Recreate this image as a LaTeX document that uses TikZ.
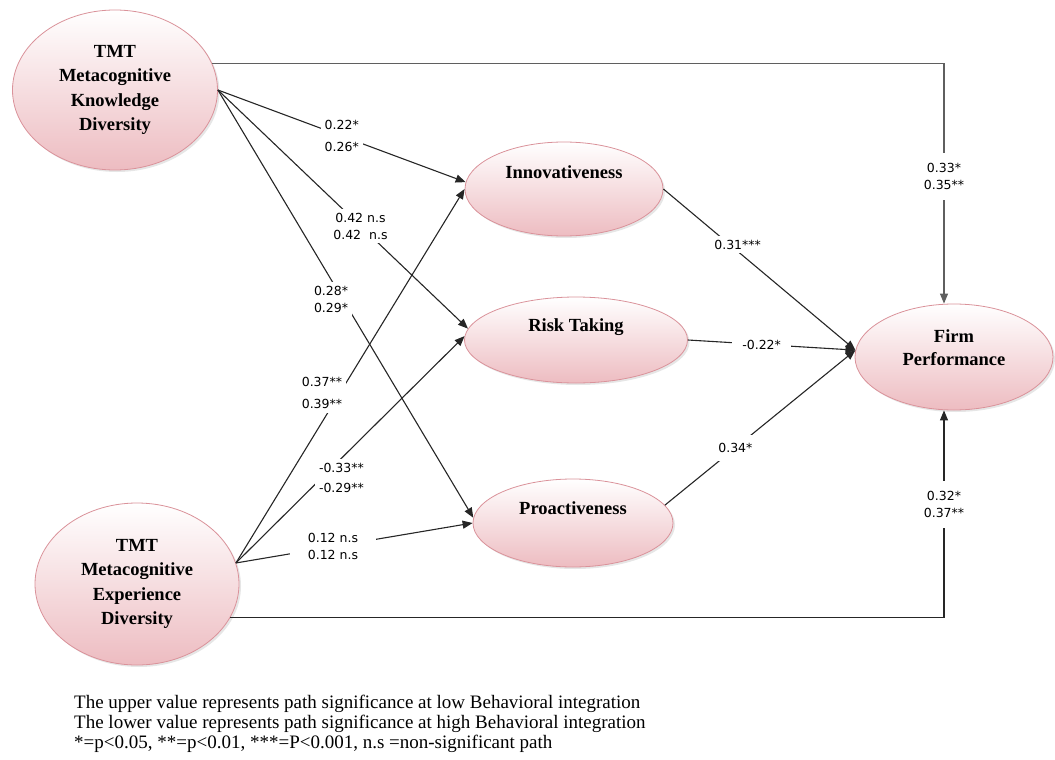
\documentclass[tikz,border=0pt]{standalone}
\usepackage{fontspec}
\setmainfont{Liberation Serif}
\newfontfamily\valfont{DejaVu Sans}
\usepackage{tikz}
\usetikzlibrary{arrows.meta,shapes.geometric,shadows,positioning}
\definecolor{ellpink}{RGB}{237,188,193}
\definecolor{ellline}{RGB}{218,146,154}
\definecolor{pathgray}{RGB}{95,95,95}

\begin{document}
\begin{tikzpicture}[x=1pt,y=-1pt,>={Triangle[length=10pt,width=8pt]},
    construct/.style={ellipse,draw=ellline,line width=0.8pt,top color=white,bottom color=ellpink,
        drop shadow={shadow xshift=2pt,shadow yshift=-2pt,opacity=0.2},inner sep=0pt,
        align=center,font=\fontsize{18.5}{24.5}\selectfont\bfseries},
    word/.style={inner sep=0pt,font=\fontsize{18.5}{23}\selectfont\bfseries},
    conn/.style={->,line width=1.1pt,black!85},
    coef/.style={fill=white,text=black,inner sep=4pt,align=center,font=\valfont\fontsize{12.5}{17}\selectfont},
    coefwide/.style={coef,font=\valfont\fontsize{12.5}{22}\selectfont}]

    \useasboundingbox (0,0) rectangle (1055,760);

    % constructs
    \node[construct,minimum width=205pt,minimum height=160pt] (know) at (115,90)
        {TMT\\Metacognitive\\Knowledge\\Diversity};
    \node[construct,minimum width=204pt,minimum height=162pt] (expd) at (137,584)
        {TMT\\Metacognitive\\Experience\\Diversity};
    \node[construct,minimum width=198pt,minimum height=94pt,
        label={[word,yshift=17pt]center:Innovativeness}] (innov) at (564,189) {};
    \node[construct,minimum width=223pt,minimum height=86pt,
        label={[word,yshift=13pt]center:Risk Taking}] (risk) at (576,340) {};
    \node[construct,minimum width=200pt,minimum height=88pt,
        label={[word,yshift=15pt]center:Proactiveness}] (proact) at (573,523) {};
    \node[construct,minimum width=198pt,minimum height=106pt,
        label={[word,align=center,yshift=9pt]center:Firm\\Performance}] (firm) at (954,357) {};

    % direct paths
    \draw[conn,pathgray] (know.15) -| node[coef,pos=0.735,inner ysep=10pt]{0.33*\\0.35**}
        ([xshift=-10pt]firm.north);
    \draw[conn] (expd.-20) -| node[coef,pos=0.773,inner ysep=10pt]{0.32*\\0.37**}
        ([xshift=-10pt]firm.south);

    % knowledge diversity
    \draw[conn] (know.east) -- node[coefwide,pos=0.5]{0.22*\\0.26*} (innov.176);
    \draw[conn] (know.east) -- node[coef,pos=0.57]{0.42 n.s\\0.42\ \ n.s} (risk.174);
    \draw[conn] (know.east) -- node[coef,pos=0.49,xshift=-12pt]{0.28*\\0.29*} (proact.177);

    % experience diversity
    \draw[conn] (expd.12) -- node[coefwide,pos=0.455,xshift=-18pt]{0.37**\\0.39**} (innov.west);
    \draw[conn] (expd.12) -- node[coef,pos=0.374,xshift=20pt,font=\valfont\fontsize{12.5}{20}\selectfont]{-0.33**\\-0.29**} (risk.178);
    \draw[conn] (expd.12) -- node[coef,pos=0.41,inner xsep=18pt]{0.12 n.s\\0.12 n.s} (proact.west);

    % orientations to performance
    \draw[conn] (innov.east) -- node[coef,pos=0.345,xshift=8pt]{0.31***} (firm.176);
    \draw[conn] (risk.east) -- node[coef,pos=0.44,inner xsep=10pt]{-0.22*} (firm.176);
    \draw[conn] (proact.11) -- node[coef,pos=0.37,inner ysep=8pt]{0.34*} (firm.176);

    % legend
    \node[anchor=north west,align=left,inner sep=0pt,font=\fontsize{19}{20}\selectfont] (note) at (74,695)
        {The upper value represents path significance at low Behavioral integration\\
         The lower value represents path significance at high Behavioral integration\\
         *=p<0.05, **=p<0.01, ***=P<0.001, n.s =non-significant path};
\end{tikzpicture}
\end{document}
